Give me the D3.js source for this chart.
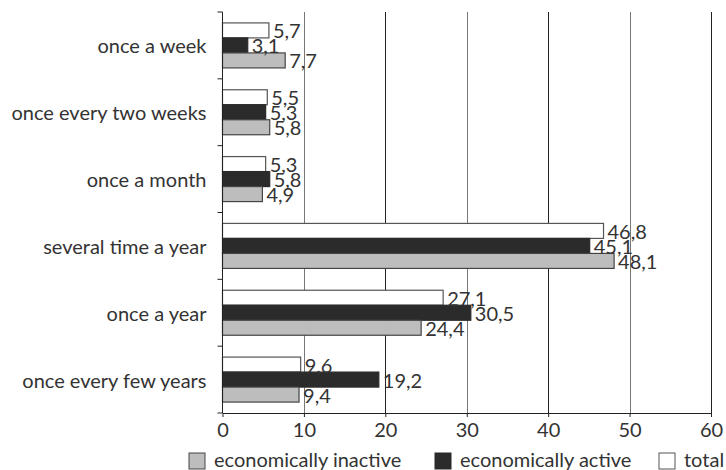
<!DOCTYPE html>
<html>
<head>
<meta charset="utf-8">
<script src="https://cdn.jsdelivr.net/npm/d3@7"></script>
<style>
  body { margin: 0; background: #fff; }
  svg text { font-family: Lato, "Open Sans", sans-serif; fill: #333; }
</style>
</head>
<body>
<div id="d3Container"></div>
<script>
const categories = ['once a week', 'once every two weeks', 'once a month',
  'several time a year', 'once a year', 'once every few years'];
const total = [5.7, 5.5, 5.3, 46.8, 27.1, 9.6];
const active = [3.1, 5.3, 5.8, 45.1, 30.5, 19.2];
const inactive = [7.7, 5.8, 4.9, 48.1, 24.4, 9.4];
const seriesNames = ['total', 'economically active', 'economically inactive'];
const xTicks = [0, 10, 20, 30, 40, 50, 60];

const viz = () => {
  const w = 726;
  const h = 470;
  const svg = d3.select('#d3Container').append('svg')
    .attr('width', w)
    .attr('height', h);

  const [x0, y0, x1, y1] = [222.5, 12, 711, 413];
  const xScale = d3.scaleLinear().domain([0, 60]).range([x0, x1]);
  const yScale = d3.scaleBand().domain(categories).range([y0, y1]).padding(0);
  const step = yScale.bandwidth();
  const inner = d3.scaleBand().domain(seriesNames).range([step / 2 - 22.5, step / 2 + 22.5]).padding(0);

  const fills = {'total': '#fff', 'economically active': '#2b2b2b', 'economically inactive': '#bdbdbd'};
  const strokes = {'total': '#555', 'economically active': '#2b2b2b', 'economically inactive': '#444'};

  // grid lines
  svg.append('g').selectAll('line')
    .data(xTicks.slice(1))
    .enter()
    .append('line')
    .attr('x1', d => Math.round(xScale(d)) + 0.5)
    .attr('x2', d => Math.round(xScale(d)) + 0.5)
    .attr('y1', y0)
    .attr('y2', y1)
    .style('stroke', (d, i) => i % 2 ? '#222' : '#777')
    .style('stroke-width', 1);

  let rows = [];
  categories.forEach((c, i) => {
    rows.push({cat: c, s: 'total', v: total[i]});
    rows.push({cat: c, s: 'economically active', v: active[i]});
    rows.push({cat: c, s: 'economically inactive', v: inactive[i]});
  });

  svg.append('g').selectAll('rect')
    .data(rows)
    .enter()
    .append('rect')
    .attr('x', xScale(0))
    .attr('y', d => yScale(d.cat) + inner(d.s))
    .attr('width', d => xScale(d.v) - xScale(0))
    .attr('height', inner.bandwidth())
    .style('fill', d => fills[d.s])
    .style('stroke', d => strokes[d.s])
    .style('stroke-width', 1.2);

  const fmt = v => d3.format('.1f')(v).replace('.', ',');
  svg.append('g').selectAll('text')
    .data(rows)
    .enter()
    .append('text')
    .attr('x', d => xScale(d.v) + 4)
    .attr('y', d => yScale(d.cat) + inner(d.s) + inner.bandwidth() / 2 + 8)
    .style('font-size', '20px')
    .text(d => fmt(d.v));

  // axes
  svg.append('line')
    .attr('x1', x0).attr('x2', x0)
    .attr('y1', y0).attr('y2', y1)
    .style('stroke', '#222');
  svg.append('g').selectAll('line')
    .data(categories.concat(['']))
    .enter()
    .append('line')
    .attr('x1', x0 - 5).attr('x2', x0)
    .attr('y1', (d, i) => y0 + i * step)
    .attr('y2', (d, i) => y0 + i * step)
    .style('stroke', '#222');

  svg.append('g').selectAll('text')
    .data(categories)
    .enter()
    .append('text')
    .attr('x', x0 - 16)
    .attr('y', d => yScale(d) + step / 2 + 8)
    .attr('text-anchor', 'end')
    .style('font-size', '20px')
    .text(d => d);

  const xAxis = d3.axisBottom(xScale).tickValues(xTicks).tickSize(4).tickPadding(6).tickSizeOuter(0);
  const xa = svg.append('g').attr('transform', `translate(0, ${y1})`).call(xAxis);
  xa.selectAll('text').style('font-size', '20px').style('font-family', 'Lato, sans-serif').attr('fill', '#333');
  xa.selectAll('line, path').style('stroke', '#222');

  // legend
  const legend = [
    {name: 'economically inactive', x: 189},
    {name: 'economically active', x: 435},
    {name: 'total', x: 659}
  ];
  const lg = svg.append('g').selectAll('g')
    .data(legend)
    .enter()
    .append('g')
    .attr('transform', d => `translate(${d.x}, 453)`);
  lg.append('rect')
    .attr('width', 16).attr('height', 16)
    .style('fill', d => fills[d.name])
    .style('stroke', d => strokes[d.name]);
  lg.append('text')
    .attr('x', 25).attr('y', 14)
    .style('font-size', '20px')
    .text(d => d.name);
};

viz();
</script>
</body>
</html>
